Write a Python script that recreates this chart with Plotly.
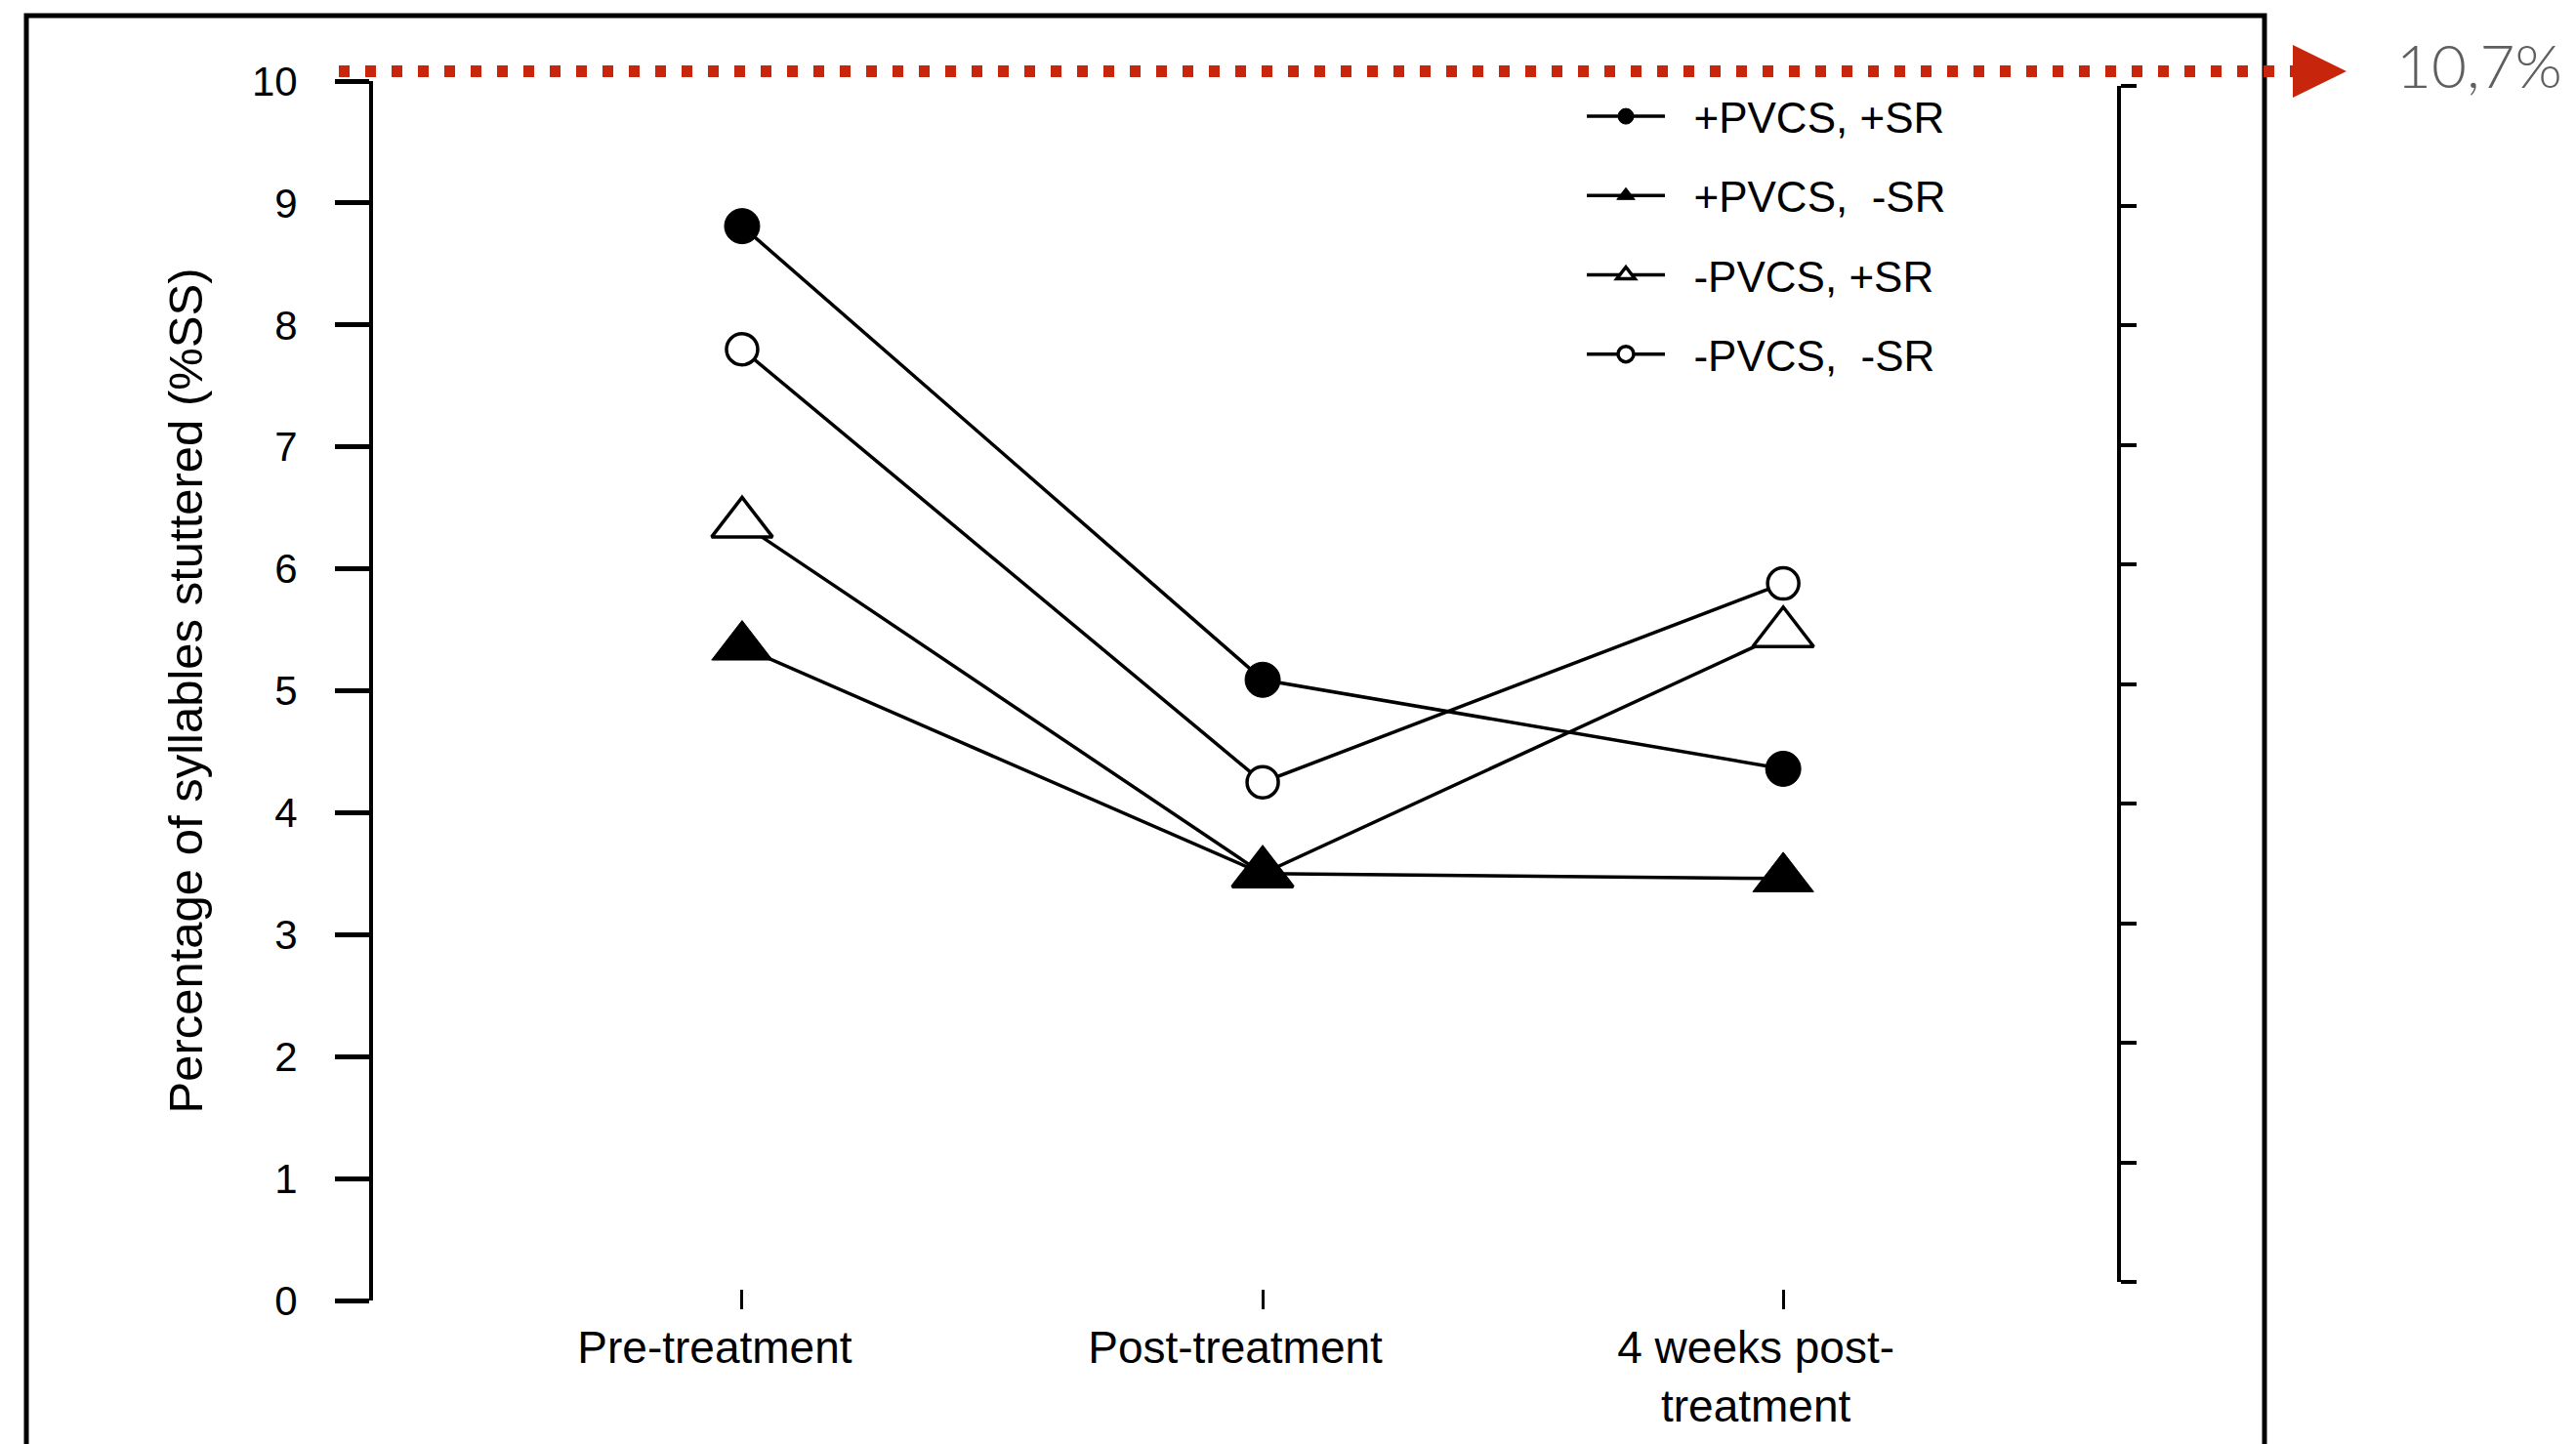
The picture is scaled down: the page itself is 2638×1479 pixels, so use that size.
import plotly.graph_objects as go

# ---------------- data ----------------
categories = ["Pre-treatment", "Post-treatment", "4 weeks post-<br>treatment"]
pos_pvcs_pos_sr = [8.81, 5.09, 4.36]   # +PVCS, +SR
pos_pvcs_neg_sr = [5.36, 3.50, 3.46]   # +PVCS, -SR
neg_pvcs_pos_sr = [6.37, 3.50, 5.47]   # -PVCS, +SR
neg_pvcs_neg_sr = [7.80, 4.25, 5.88]   # -PVCS, -SR
series_names = ["+PVCS, +SR", "+PVCS,\u00a0 -SR", "-PVCS, +SR", "-PVCS,\u00a0 -SR"]
y_tick_values = list(range(0, 11))
y_title = "Percentage of syllables stuttered (%SS)"
callout_text = "10,7%"

# ---------------- layout geometry (pixels) ----------------
W, H = 2638, 1479
L, R, T, B = 382, 2170, 83, 1332


def px(x):
    return (x - L) / (R - L)


def py(y):
    return (B - y) / (B - T)


FONT = "Liberation Sans, Arial, sans-serif"
LEGEND_PAD = "\u2007"  # small gap between legend sample and its label

fig = go.Figure()

common_line = dict(color="black", width=3.5)

# drawing order: open triangle beneath filled triangle
fig.add_trace(go.Scatter(
    x=categories, y=neg_pvcs_pos_sr, name=LEGEND_PAD + series_names[2],
    mode="lines+markers", line=common_line, legendrank=3, legendgroup="c",
    marker=dict(symbol="triangle-up", size=54, color="white",
                line=dict(color="black", width=3.5))))
fig.add_trace(go.Scatter(
    x=categories, y=neg_pvcs_neg_sr, name=LEGEND_PAD + series_names[3],
    mode="lines+markers", line=common_line, legendrank=4, legendgroup="d",
    marker=dict(symbol="circle", size=32, color="white",
                line=dict(color="black", width=3.5))))
fig.add_trace(go.Scatter(
    x=categories, y=pos_pvcs_pos_sr, name=LEGEND_PAD + series_names[0],
    mode="lines+markers", line=common_line, legendrank=1, legendgroup="a",
    marker=dict(symbol="circle", size=36, color="black",
                line=dict(color="black", width=1))))
fig.add_trace(go.Scatter(
    x=categories, y=pos_pvcs_neg_sr, name=LEGEND_PAD + series_names[1],
    mode="lines+markers", line=common_line, legendrank=2, legendgroup="b",
    marker=dict(symbol="triangle-up", size=54, color="black",
                line=dict(color="black", width=1))))

# empty trace to carry the right-hand axis
fig.add_trace(go.Scatter(x=[], y=[], xaxis="x", yaxis="y2", showlegend=False,
                         hoverinfo="skip"))

shapes = [
    # outer black frame
    dict(type="rect", xref="paper", yref="paper", layer="below",
         x0=px(27), x1=px(2319), y0=py(1700), y1=py(16),
         line=dict(color="black", width=5), fillcolor="rgba(0,0,0,0)"),
    # red dotted reference line
    dict(type="line", xref="paper", yref="paper",
         x0=px(347), x1=px(2350), y0=py(73), y1=py(73),
         line=dict(color="#C8260C", width=12, dash="11px,16px")),
    # red arrow head
    dict(type="path", xref="paper", yref="paper",
         path="M {:.5f},{:.5f} L {:.5f},{:.5f} L {:.5f},{:.5f} Z".format(
             px(2348), py(46), px(2403), py(73), px(2348), py(100)),
         fillcolor="#C8260C", line=dict(color="#C8260C", width=0)),
]

fig.update_layout(
    width=W, height=H,
    margin=dict(l=L, r=W - R, t=T, b=H - B),
    paper_bgcolor="white", plot_bgcolor="rgba(0,0,0,0)",
    font=dict(family=FONT, color="black"),
    showlegend=True,
    legend=dict(x=px(1620), y=py(84), xanchor="left", yanchor="top",
                bgcolor="rgba(0,0,0,0)", font=dict(size=44, family=FONT),
                traceorder="grouped", tracegroupgap=21, itemwidth=80,
                itemsizing="trace"),
    xaxis=dict(type="category", categoryarray=categories,
               range=[-0.709, 2.645], anchor="free", position=(B - 1320) / (B - T),
               showline=False, showgrid=False, zeroline=False,
               ticks="outside", ticklen=20, tickwidth=3, tickcolor="black",
               tickfont=dict(size=46, family=FONT), ticklabelshift=-28),
    yaxis=dict(range=[0, 10], tickvals=y_tick_values, showline=True,
               linewidth=4, linecolor="black", showgrid=False, zeroline=False,
               ticks="outside", ticklen=35, tickwidth=5, tickcolor="black",
               tickfont=dict(size=42, family=FONT), ticklabelstandoff=30,
               title=dict(text=y_title, font=dict(size=49, family=FONT),
                          standoff=36)),
    yaxis2=dict(range=[0, 10], tickvals=y_tick_values,
                domain=[(B - 1313) / (B - T), 1 - (88 - T) / (B - T)],
                anchor="free", position=1.0, side="right",
                showline=True, linewidth=4, linecolor="black",
                showgrid=False, zeroline=False, showticklabels=False,
                ticks="outside", ticklen=16, tickwidth=4, tickcolor="black"),
    shapes=shapes,
    annotations=[dict(text=callout_text, xref="paper", yref="paper",
                      x=px(2452), y=py(66), xanchor="left", yanchor="middle",
                      showarrow=False,
                      font=dict(family="Lato, sans-serif", size=62,
                                color="#5f5f5f", weight=300))],
)

fig.write_html("out.html",
               config={"displayModeBar": False},
               post_script="document.body.style.margin='0';"
                           "document.body.style.overflow='hidden';")
